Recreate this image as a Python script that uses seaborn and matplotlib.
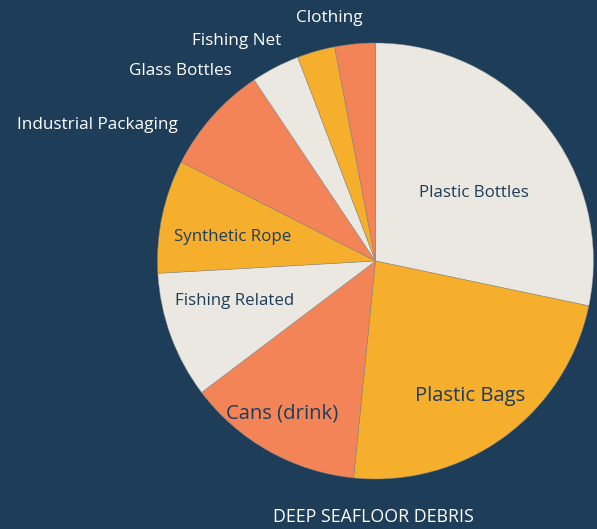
import numpy as np
import matplotlib.pyplot as plt
import seaborn as sns

# debris categories and share (%)
categories = ["Plastic Bottles", "Plastic Bags", "Cans (drink)", "Fishing Related",
              "Synthetic Rope", "Industrial Packaging", "Glass Bottles", "Fishing Net", "Clothing"]
shares = [28.3, 23.3, 13.1, 9.4, 8.4, 8.1, 3.6, 2.8, 3.0]

# label placement: (radius factor, angle clockwise from top)
label_r = [0.55, 0.756, 0.82, 0.67, 0.663, 1.10, 1.092, 1.098, 1.116]
label_ang = [55.4, 145.0, 211.6, 254.1, 279.6, 304.55, 322.9, 336.75, 357.06]
label_size = [12.2, 14.6, 14.6, 12.2, 12.2, 12.3, 12.3, 12.3, 12.3]

bg = "#1E3D59"
sns.set_theme(style="white")
plt.rcParams['font.family'] = ['Open Sans', 'DejaVu Sans']
base = sns.color_palette(["#EBE8E2", "#F6AE2D", "#F28457"])
colors = [base[i % 3] for i in range(len(shares))]

fig = plt.figure(figsize=(5.97, 5.29), dpi=100, facecolor=bg)
ax = fig.add_axes([0, 0, 1, 1])
ax.set_facecolor(bg)

cx, cy, R = 375.5, 268, 218
wedges, _ = ax.pie(shares, colors=colors, startangle=90, counterclock=False,
                   center=(cx, cy), radius=R, frame=True,
                   wedgeprops=dict(edgecolor=(0.55, 0.55, 0.55, 0.6), linewidth=0.5))
ax.set_xlim(0, 597)
ax.set_ylim(0, 529)
ax.set_aspect('equal')
ax.axis('off')

for name, r, a, s in zip(categories, label_r, label_ang, label_size):
    t = np.deg2rad(a)
    x = cx + r * R * np.sin(t)
    y = cy + r * R * np.cos(t)
    if r < 1:
        ax.text(x, y, name, ha='center', va='center', fontsize=s, color=bg)
    else:
        ax.text(x, y, name, ha='right', va='center', fontsize=s, color='white')

fig.text(373 / 597, 1 - 517 / 529, "DEEP SEAFLOOR DEBRIS", ha='center', va='center',
         fontsize=12.8, color='white')

fig.savefig("out.png", dpi=100, facecolor=bg)
